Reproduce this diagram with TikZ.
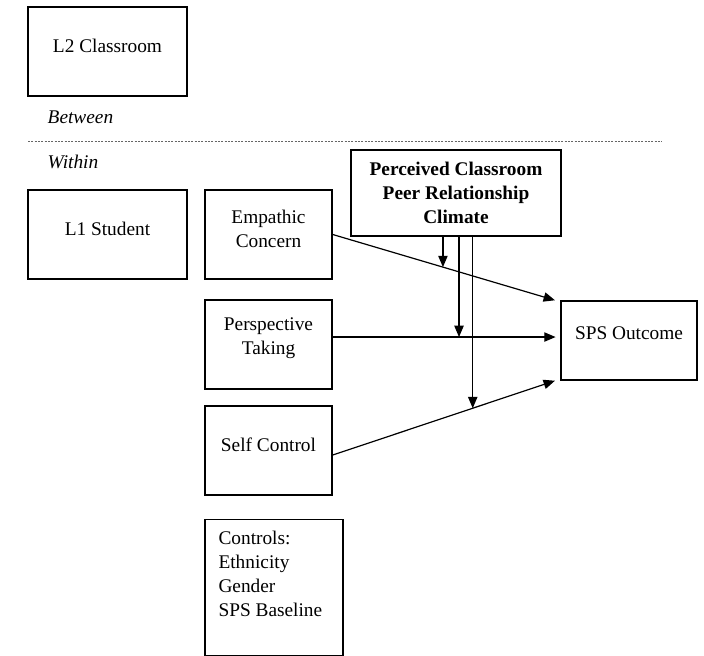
\documentclass[tikz,border=0pt]{standalone}
\usepackage{fontspec}
\setmainfont{Liberation Serif}
\usetikzlibrary{arrows.meta}
\usetikzlibrary{calc}

\begin{document}
\begin{tikzpicture}[x=0.75pt, y=-0.75pt,
        box/.style={draw, line width=1.1pt, inner sep=0pt},
        txt/.style={font=\fontsize{14.5pt}{18pt}\selectfont, align=center},
        arr/.style={-{Triangle[length=8.5pt, width=7pt]}, line width=0.9pt}]
    \useasboundingbox (0,0) rectangle (704,656);

    % Levels
    \node[box, minimum width=119.25pt, minimum height=66.75pt,
        label={[txt, yshift=4pt]center:L2 Classroom}] (l2) at (107.5,51.5) {};
    \node[txt, anchor=west] (betw) at (43,117) {\itshape Between};
    \draw[gray!80!black, dash pattern=on 1.5pt off 1pt] (28,141) -- (662,141);
    \node[txt, anchor=west] (with) at (43,162) {\itshape Within};
    \node[box, minimum width=119.25pt, minimum height=66.75pt,
        label={[txt, yshift=4pt]center:L1 Student}] (l1) at (107.5,234.5) {};

    % Predictors
    \node[box, minimum width=95.25pt, minimum height=66.75pt,
        label={[txt, yshift=4.5pt]center:Empathic\\Concern}] (ec) at (268.5,234.5) {};
    \node[box, minimum width=95.25pt, minimum height=66.75pt,
        label={[txt, yshift=4.5pt]center:Perspective\\Taking}] (pt) at (268.5,344.5) {};
    \node[box, minimum width=95.25pt, minimum height=66.75pt,
        label={[txt, yshift=4pt]center:Self Control}] (sc) at (268.5,450.5) {};
    \node[box, minimum width=103.5pt, minimum height=102pt,
        label={[txt, align=left, anchor=north west, inner sep=0pt, xshift=10.5pt, yshift=-9pt]north west:{Controls:\\Ethnicity\\Gender\\SPS Baseline}}] (ct) at (274,587.5) {};

    % Moderator and outcome
    \node[box, minimum width=157.5pt, minimum height=64.5pt,
        label={[txt, font=\fontsize{14.5pt}{18pt}\selectfont\bfseries]center:Perceived Classroom\\Peer Relationship\\Climate}] (pc) at (456,193) {};
    \node[box, minimum width=102pt, minimum height=59.25pt,
        label={[txt, yshift=5.5pt]center:SPS Outcome}] (sps) at (629,340.5) {};

    % Paths
    \draw[arr] (ec.east) -- coordinate[pos=0.496] (ecmod) ([xshift=-4pt]sps.north west);
    \coordinate (ptout) at ([yshift=5.6pt]pt.east);
    \draw[arr, shorten >=3.5pt] (ptout) -- coordinate[pos=0.555] (ptmod) (ptout -| sps.west);
    \draw[arr] ([yshift=-3.4pt]sc.east) -- coordinate[pos=0.630] (scmod) ([xshift=-4pt]sps.south west);

    % Moderation
    \draw[arr] (pc.south -| ecmod) -- (ecmod);
    \draw[arr] (pc.south -| ptmod) -- (ptmod);
    \draw[arr] (pc.south -| scmod) -- (scmod);

\end{tikzpicture}
\end{document}
